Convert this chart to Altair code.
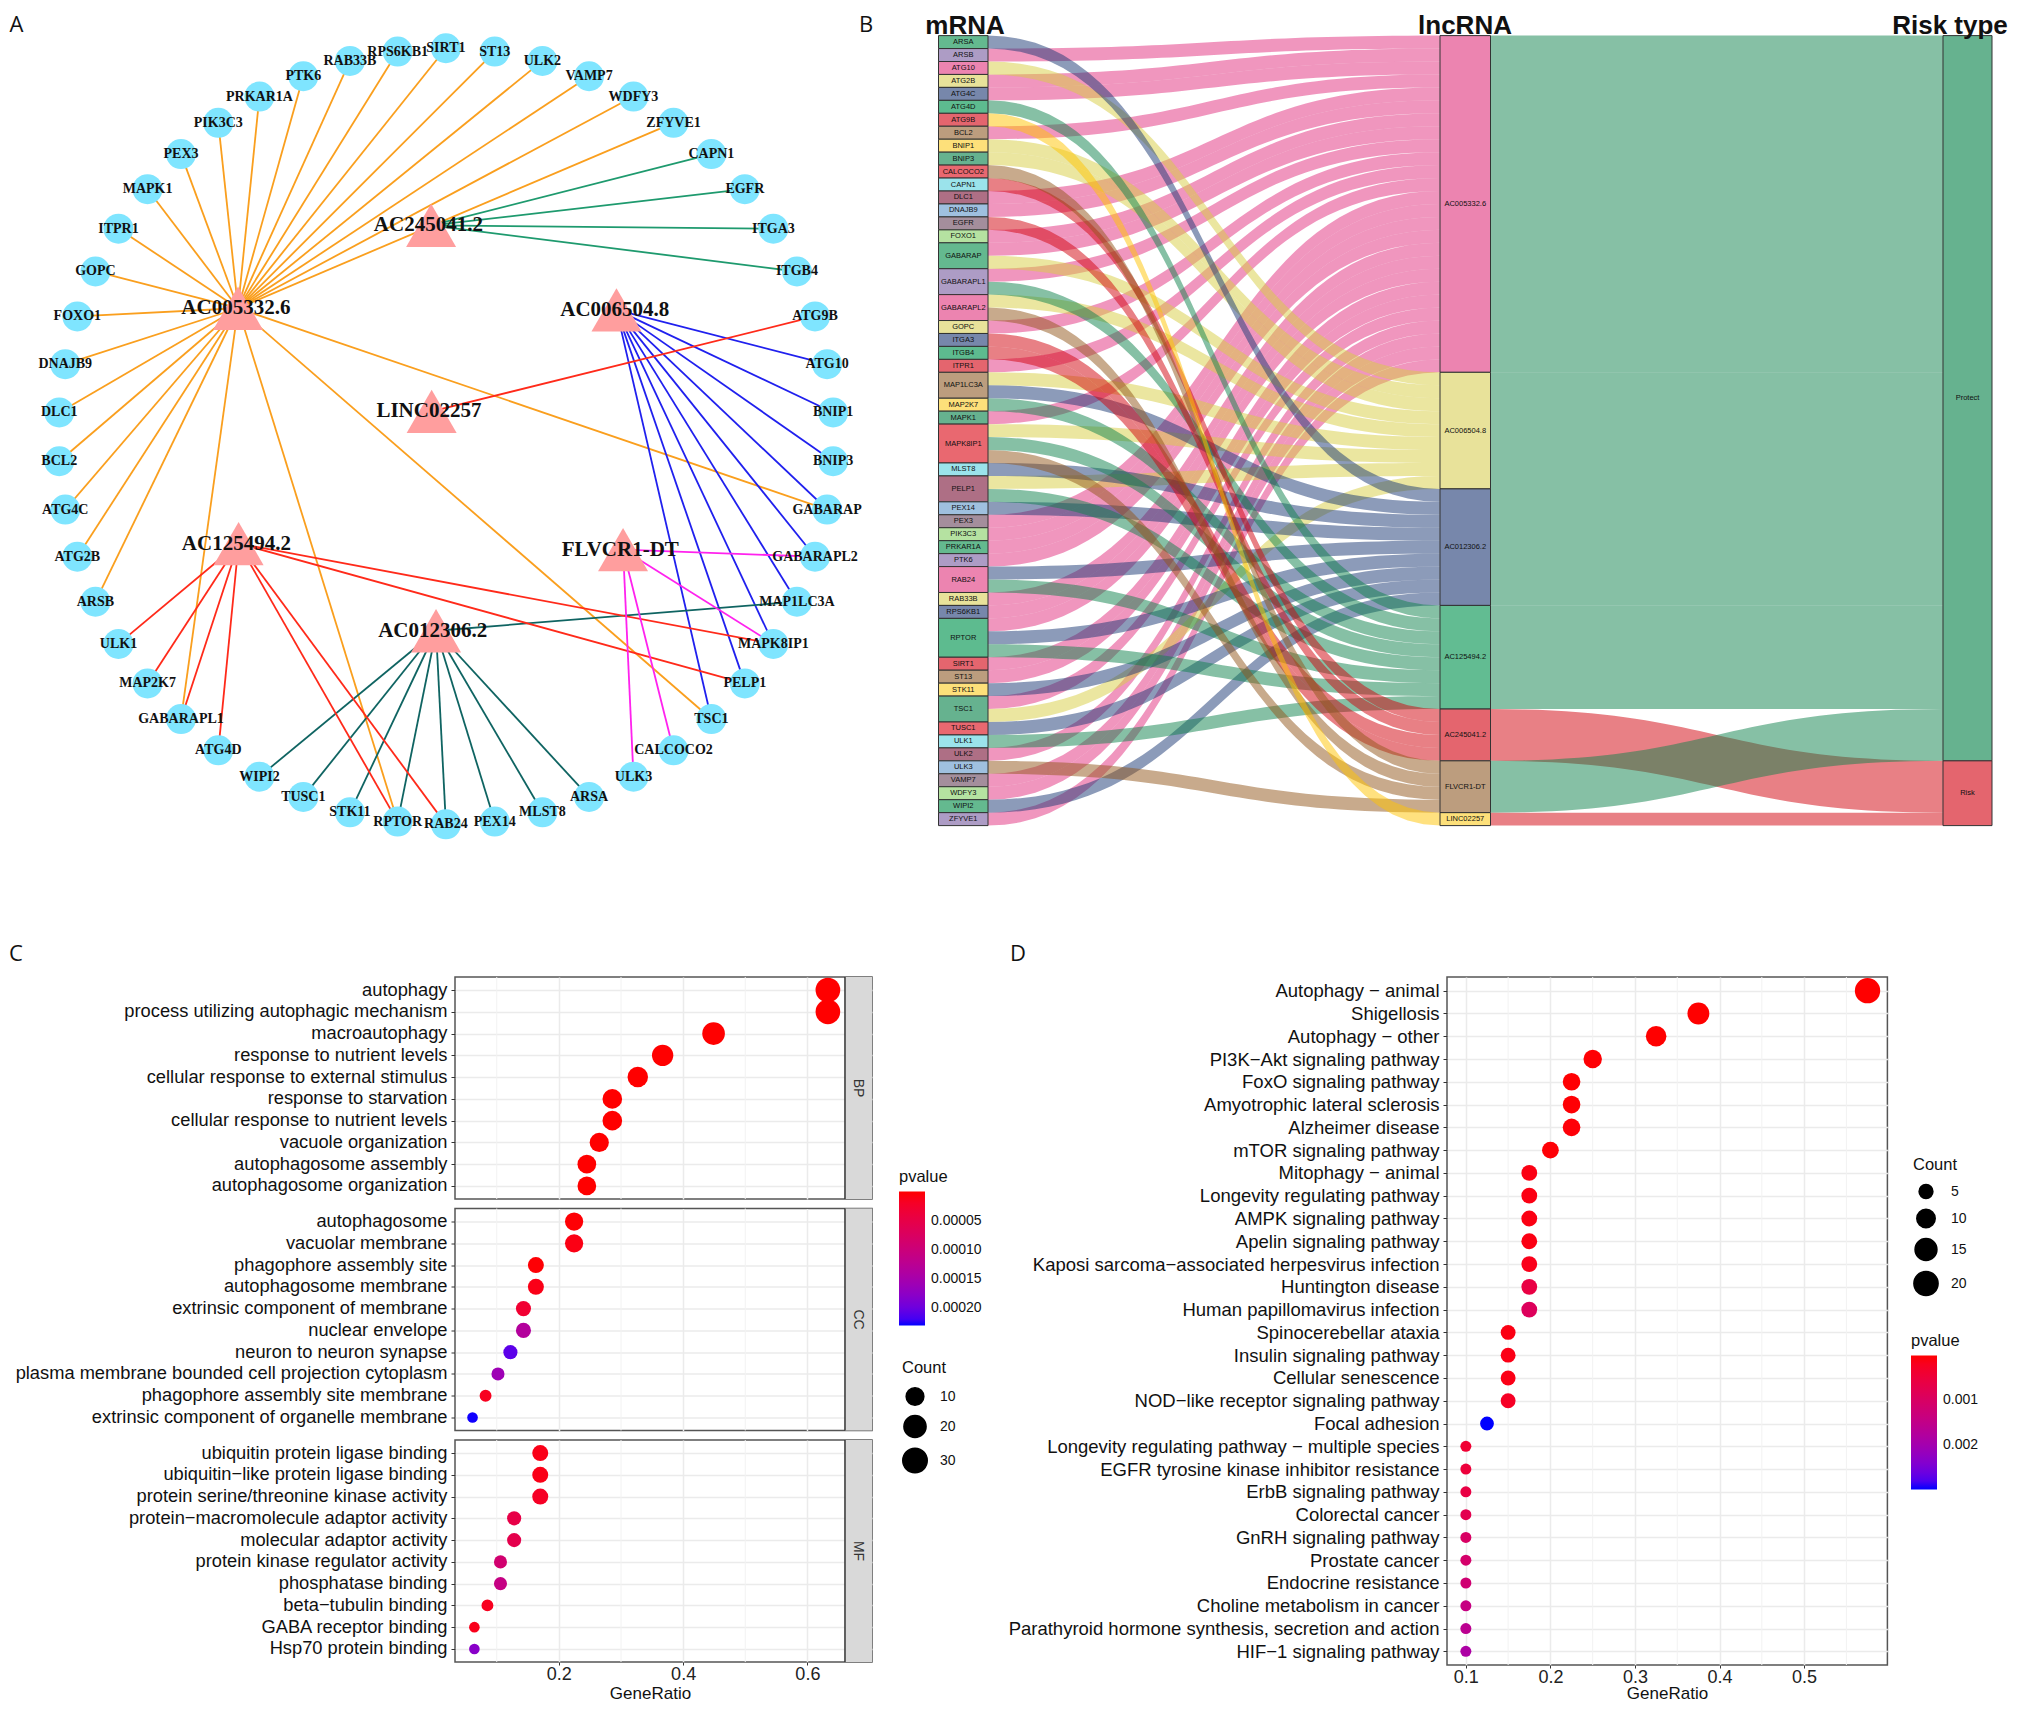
import altair as alt
import pandas as pd

alt.data_transformers.disable_max_rows()

node_names = ["SIRT1","ST13","ULK2","VAMP7","WDFY3","ZFYVE1","CAPN1","EGFR","ITGA3","ITGB4","ATG9B","ATG10","BNIP1","BNIP3","GABARAP","GABARAPL2","MAP1LC3A","MAPK8IP1","PELP1","TSC1","CALCOCO2","ULK3","ARSA","MLST8","PEX14","RAB24","RPTOR","STK11","TUSC1","WIPI2","ATG4D","GABARAPL1","MAP2K7","ULK1","ARSB","ATG2B","ATG4C","BCL2","DLC1","DNAJB9","FOXO1","GOPC","ITPR1","MAPK1","PEX3","PIK3C3","PRKAR1A","PTK6","RAB33B","RPS6KB1"]
node_x = [813,902,989,1074,1155,1228,1297,1358,1410,1453,1486,1508,1519,1519,1508,1486,1453,1410,1358,1297,1228,1155,1074,989,902,813,725,638,553,473,398,330,269,216,174,141,119,108,108,119,141,174,216,269,330,398,473,553,638,725]
node_y = [88,94,111,139,176,224,281,345,417,495,577,664,752,841,929,1015,1097,1174,1246,1311,1368,1416,1453,1481,1498,1503,1498,1481,1453,1416,1368,1311,1246,1174,1097,1015,929,841,752,664,577,495,417,345,281,224,176,139,111,94]

lnc_names = ["AC005332.6","AC006504.8","AC012306.2","AC125494.2","AC245041.2","FLVCR1-DT","LINC02257"]
lnc_x = [434,1124,795,435,786,1136,787]
lnc_y = [562,565,1150,991,411,1002,750]
lnc_label_x = [430,1121,789,431,781,1131,782]
lnc_label_y = [561,565,1151,992,410,1002,750]
lnc_edge_color = ["#FA9F1E","#2020EE","#0F6462","#FF2A1A","#1E9A6E","#FF22EE","#FF2A1A"]
lnc_targets = {
 "AC005332.6":["ARSB","ATG2B","ATG4C","BCL2","DLC1","DNAJB9","FOXO1","GABARAP","GABARAPL1","GOPC","ITPR1","MAPK1","PEX3","PIK3C3","PRKAR1A","PTK6","RAB33B","RPS6KB1","RPTOR","SIRT1","ST13","TSC1","ULK2","VAMP7","WDFY3","ZFYVE1"],
 "AC006504.8":["ATG10","BNIP1","BNIP3","GABARAP","GABARAPL2","MAP1LC3A","MAPK8IP1","PELP1","TSC1"],
 "AC012306.2":["ARSA","MAP1LC3A","MLST8","PEX14","RAB24","RPTOR","STK11","TUSC1","WIPI2"],
 "AC125494.2":["ATG4D","GABARAPL1","MAP2K7","MAPK8IP1","PELP1","RAB24","RPTOR","ULK1"],
 "AC245041.2":["CAPN1","EGFR","ITGA3","ITGB4"],
 "FLVCR1-DT":["CALCOCO2","GABARAPL2","MAPK8IP1","ULK3"],
 "LINC02257":["ATG9B"],
}
lnc_risk = {"AC005332.6":"Protect","AC006504.8":"Protect","AC012306.2":"Protect","AC125494.2":"Protect","AC245041.2":"Risk","FLVCR1-DT":"Protect","LINC02257":"Risk"}

nd = pd.DataFrame({"name":node_names,"x":node_x,"y":node_y})
ld = pd.DataFrame({"name":lnc_names,"x":lnc_x,"y":lnc_y,"lx":lnc_label_x,"ly":lnc_label_y})
pos = dict(zip(node_names,zip(node_x,node_y)))
rows=[]
for i,l in enumerate(lnc_names):
    for m in lnc_targets[l]:
        rows.append(dict(x=lnc_x[i],y=lnc_y[i],x2=pos[m][0],y2=pos[m][1],col=lnc_edge_color[i]))
ed = pd.DataFrame(rows)

ROW_BOTTOM = 974.4
AW, RH = 852, ROW_BOTTOM-8
k = 1568/860
ax = alt.Scale(domain=[8*k,860*k],nice=False,zero=False)
ay = alt.Scale(domain=[ROW_BOTTOM*k,8*k],nice=False,zero=False)
X = lambda f: alt.X(f,scale=ax,axis=None)
Y = lambda f: alt.Y(f,scale=ay,axis=None)

edges = alt.Chart(ed).mark_rule(strokeWidth=1.8).encode(x=X("x:Q"),y=Y("y:Q"),x2="x2:Q",y2="y2:Q",color=alt.Color("col:N",scale=None))
nodes = alt.Chart(nd).mark_circle(size=900,opacity=1,color="#7FE5FF").encode(x=X("x:Q"),y=Y("y:Q"))
nlabels = alt.Chart(nd).mark_text(font="Liberation Serif",fontWeight="bold",fontSize=14,color="#111").encode(x=X("x:Q"),y=Y("y:Q"),text="name:N")
tris = alt.Chart(ld).mark_point(shape="triangle-up",filled=True,size=2500,opacity=1,color="#FF9E9E").encode(x=X("x:Q"),y=Y("y:Q"))
tlabels = alt.Chart(ld).mark_text(font="Liberation Serif",fontWeight="bold",fontSize=21,color="#111").encode(x=X("lx:Q"),y=Y("ly:Q"),text="name:N")
letters_a = pd.DataFrame({"t":["A","C"],"x":[16.5*k,16*k],"y":[24.5*k,954*k]})
lett_a = alt.Chart(letters_a).mark_text(font="Open Sans",fontSize=22,color="#111").encode(x=X("x:Q"),y=Y("y:Q"),text="t:N")
panelA = alt.layer(edges,nodes,tris,nlabels,tlabels,lett_a).properties(width=AW,height=RH)

mrna = ["ARSA","ARSB","ATG10","ATG2B","ATG4C","ATG4D","ATG9B","BCL2","BNIP1","BNIP3","CALCOCO2","CAPN1","DLC1","DNAJB9","EGFR","FOXO1","GABARAP","GABARAPL1","GABARAPL2","GOPC","ITGA3","ITGB4","ITPR1","MAP1LC3A","MAP2K7","MAPK1","MAPK8IP1","MLST8","PELP1","PEX14","PEX3","PIK3C3","PRKAR1A","PTK6","RAB24","RAB33B","RPS6KB1","RPTOR","SIRT1","ST13","STK11","TSC1","TUSC1","ULK1","ULK2","ULK3","VAMP7","WDFY3","WIPI2","ZFYVE1"]
palette = ["#64B98F","#AD9CC5","#EC84B0","#E8E29A","#7787AB","#5DBB8F","#E4656E","#BC9D7E","#FDE07A","#66B28F","#E96870","#9BE3EB","#AE6F85","#9FC0DF","#A48E9C","#B5E2A1"]
flow_color = {"AC005332.6":"#E12D7D","AC006504.8":"#D7CD41","AC012306.2":"#193773","AC125494.2":"#0E814C","AC245041.2":"#D2020B","FLVCR1-DT":"#915519","LINC02257":"#FFC300"}
lnc_fill = {"AC005332.6":"#EC84B0","AC006504.8":"#E8E29A","AC012306.2":"#7787AB","AC125494.2":"#62BC92","AC245041.2":"#E4656E","FLVCR1-DT":"#BC9D7E","LINC02257":"#FDE07A"}
risk_names = ["Protect","Risk"]
risk_fill = {"Protect":"#66B28F","Risk":"#E4656E"}
risk_flow = {"Protect":"#0E814C","Risk":"#D2020B"}
col_x = [[938.5,988],[1440,1490.5],[1943,1992]]

pairs = [(m,l) for l in lnc_names for m in lnc_targets[l]]
m_strata=[]; m_slot={}; cur=0
for i,m in enumerate(mrna):
    ls=[l for l in lnc_names if m in lnc_targets[l]]
    m_strata.append(dict(name=m,x0=col_x[0][0],x1=col_x[0][1],y0=cur,y1=cur+len(ls),fill=palette[i%16],ym=cur+len(ls)/2))
    for l in ls:
        m_slot[(m,l)]=cur; cur+=1
l_strata=[]; l_slot={}; cur=0
for l in lnc_names:
    n=len(lnc_targets[l])
    l_strata.append(dict(name=l,x0=col_x[1][0],x1=col_x[1][1],y0=cur,y1=cur+n,fill=lnc_fill[l],ym=cur+n/2))
    for m in mrna:
        if m in lnc_targets[l]:
            l_slot[(m,l)]=cur; cur+=1
r_strata=[]; r_slot={}; cur=0
for r in risk_names:
    ls=[l for l in lnc_names if lnc_risk[l]==r]
    n=sum(len(lnc_targets[l]) for l in ls)
    r_strata.append(dict(name=r,x0=col_x[2][0],x1=col_x[2][1],y0=cur,y1=cur+n,fill=risk_fill[r],ym=cur+n/2))
    for l in ls:
        r_slot[l]=cur; cur+=len(lnc_targets[l])

def ribbon(idn,xa,xb,ya,yb,th,fill):
    out=[]
    w=xb-xa
    for i in range(41):
        s=i/40
        fx=1.5*s*(1-s)+s**3
        fy=3*s*s-2*s**3
        y=ya+(yb-ya)*fy
        out.append(dict(link=idn,px=xa+w*fx,ya=y,yb=y+th,tint=fill))
    return out
fl=[]
for j,(m,l) in enumerate(pairs):
    fl+=ribbon(f"a{j:03d}",col_x[0][1],col_x[1][0],m_slot[(m,l)],l_slot[(m,l)],1,flow_color[l])
for j,l in enumerate(lnc_names):
    n=len(lnc_targets[l])
    ya=[s["y0"] for s in l_strata if s["name"]==l][0]
    fl+=ribbon(f"b{j:03d}",col_x[1][1],col_x[2][0],ya,r_slot[l],n,risk_flow[lnc_risk[l]])
fd=pd.DataFrame(fl)
sd=pd.DataFrame(m_strata+l_strata+r_strata)

unit=(825.6-35.6)/61
py=lambda p:(p-35.6)/unit
bx=alt.Scale(domain=[860,1995],nice=False,zero=False)
by=alt.Scale(domain=[py(ROW_BOTTOM),py(8)],nice=False,zero=False)
BW=1135
BX=lambda f:alt.X(f,scale=bx,axis=None)
BY=lambda f:alt.Y(f,scale=by,axis=None,stack=None)
tints=list(dict.fromkeys(fd.tint))
flows=alt.Chart(fd).mark_area(opacity=0.5,orient="vertical").encode(x=BX("px:Q"),y=BY("ya:Q"),y2="yb:Q",color=alt.Color("tint:N",scale=alt.Scale(domain=tints,range=tints),legend=None),detail="link:N")
strata=alt.Chart(sd).mark_rect(stroke="#333",strokeWidth=1,opacity=1).encode(x=BX("x0:Q"),x2="x1:Q",y=BY("y0:Q"),y2="y1:Q",color=alt.Color("fill:N",scale=None))
sd2=sd.assign(xm=(sd.x0+sd.x1)/2)
stext=alt.Chart(sd2).mark_text(font="Liberation Sans",fontSize=7.5,color="#111").encode(x=BX("xm:Q"),y=BY("ym:Q"),text="name:N")
heads=pd.DataFrame({"t":["mRNA","lncRNA","Risk type"],"x":[965,1465,1950],"y":[py(25.5),py(25.5),py(25.5)]})
htext=alt.Chart(heads).mark_text(font="Liberation Sans",fontWeight="bold",fontSize=26,color="#111").encode(x=BX("x:Q"),y=BY("y:Q"),text="t:N")
letters_b=pd.DataFrame({"t":["B","D"],"x":[866,1018],"y":[py(24.5),py(954)]})
ltext=alt.Chart(letters_b).mark_text(font="Open Sans",fontSize=22,color="#111").encode(x=BX("x:Q"),y=BY("y:Q"),text="t:N")
panelB=alt.layer(flows,strata,stext,htext,ltext).properties(width=BW,height=RH)

bp_terms=["autophagy","process utilizing autophagic mechanism","macroautophagy","response to nutrient levels","cellular response to external stimulus","response to starvation","cellular response to nutrient levels","vacuole organization","autophagosome assembly","autophagosome organization"]
bp_ratio=[.633,.633,.449,.367,.327,.286,.286,.265,.245,.245]
bp_count=[31,31,22,18,16,14,14,13,12,12]
bp_p=[1e-9,1e-9,1e-8,1e-8,1e-8,1e-7,1e-7,1e-7,1e-7,1e-7]
cc_terms=["autophagosome","vacuolar membrane","phagophore assembly site","autophagosome membrane","extrinsic component of membrane","nuclear envelope","neuron to neuron synapse","plasma membrane bounded cell projection cytoplasm","phagophore assembly site membrane","extrinsic component of organelle membrane"]
cc_ratio=[.2245,.2245,.163,.163,.143,.143,.122,.102,.082,.061]
cc_count=[11,11,8,8,7,7,6,5,4,3]
cc_p=[2e-6,8e-6,2e-6,1e-5,3e-5,1.35e-4,2.1e-4,1.6e-4,1.5e-5,2.3e-4]
mf_terms=["ubiquitin protein ligase binding","ubiquitin\u2212like protein ligase binding","protein serine/threonine kinase activity","protein\u2212macromolecule adaptor activity","molecular adaptor activity","protein kinase regulator activity","phosphatase binding","beta\u2212tubulin binding","GABA receptor binding","Hsp70 protein binding"]
mf_ratio=[.17,.17,.17,.128,.128,.106,.106,.085,.064,.064]
mf_count=[8,8,8,6,6,5,5,4,3,3]
mf_p=[1e-5,1e-5,2e-5,5e-5,5.5e-5,9e-5,1.1e-4,1.5e-5,1.2e-5,1.8e-4]

d_terms=["Autophagy \u2212 animal","Shigellosis","Autophagy \u2212 other","PI3K\u2212Akt signaling pathway","FoxO signaling pathway","Amyotrophic lateral sclerosis","Alzheimer disease","mTOR signaling pathway","Mitophagy \u2212 animal","Longevity regulating pathway","AMPK signaling pathway","Apelin signaling pathway","Kaposi sarcoma\u2212associated herpesvirus infection","Huntington disease","Human papillomavirus infection","Spinocerebellar ataxia","Insulin signaling pathway","Cellular senescence","NOD\u2212like receptor signaling pathway","Focal adhesion","Longevity regulating pathway \u2212 multiple species","EGFR tyrosine kinase inhibitor resistance","ErbB signaling pathway","Colorectal cancer","GnRH signaling pathway","Prostate cancer","Endocrine resistance","Choline metabolism in cancer","Parathyroid hormone synthesis, secretion and action","HIF\u22121 signaling pathway"]
d_ratio=[.575,.375,.325,.25,.225,.225,.225,.2,.175,.175,.175,.175,.175,.175,.175,.15,.15,.15,.15,.125,.1,.1,.1,.1,.1,.1,.1,.1,.1,.1]
d_count=[23,15,13,10,9,9,9,8,7,7,7,7,7,7,7,6,6,6,6,5,4,4,4,4,4,4,4,4,4,4]
d_p=[1e-7,1e-6,1e-6,2e-5,1e-5,2e-5,4e-5,3e-5,1e-4,1e-4,1e-4,1e-4,1.5e-4,6e-4,9e-4,1e-4,1.2e-4,1.2e-4,2.5e-4,2.99e-3,4e-4,5e-4,6e-4,7.5e-4,1e-3,1.1e-3,1.2e-3,1.4e-3,1.6e-3,1.85e-3]

GRID="#ebebeb"
def dots(terms,ratio,count,p,h,w,xdom,majors,minors,color_scale,size_scale,xlabels,strip=None,strip_from=None,legends=None,fs=18.5,title_y=26):
    df=pd.DataFrame({"term":terms,"ratio":ratio,"count":count,"p":p})
    xs=alt.Scale(domain=xdom,nice=False,zero=False)
    if xlabels:
        axis=alt.Axis(values=majors,format=".1f",title="GeneRatio",titleFontSize=17,titleFontWeight="normal",titleColor="#111",titleX=xlabels,titleY=title_y,titleBaseline="middle",
                      labelFontSize=18,labelColor="#222",tickColor="#333",tickSize=3,domain=False,grid=True,gridColor=GRID,gridWidth=1.5,labelPadding=0)
    else:
        axis=alt.Axis(values=majors,title=None,labels=False,ticks=False,domain=False,grid=True,gridColor=GRID,gridWidth=1.5)
    minor=alt.Chart(pd.DataFrame({"x":minors})).mark_rule(color="#f2f2f2",strokeWidth=1).encode(x=alt.X("x:Q",scale=xs,axis=axis))
    ys=alt.Scale(domain=terms,type="point",padding=0.6)
    yaxis=alt.Axis(title=None,labelFontSize=fs,labelLimit=1000,labelColor="#111",tickColor="#333",tickSize=4,domain=False,grid=True,gridColor=GRID,gridWidth=1.5,labelPadding=4)
    col_leg,size_leg=legends if legends else (None,None)
    pts=alt.Chart(df).mark_circle(opacity=1).encode(
        x=alt.X("ratio:Q",scale=xs,axis=axis),
        y=alt.Y("term:N",scale=ys,axis=yaxis,sort=terms),
        color=alt.Color("p:Q",scale=color_scale,legend=col_leg),
        size=alt.Size("count:Q",scale=size_scale,legend=size_leg))
    layers=[minor]
    if strip:
        sdf=pd.DataFrame({"a":[strip_from],"b":[xdom[1]],"m":[(strip_from+xdom[1])/2],"s":[strip]})
        layers.append(alt.Chart(sdf).mark_rect(color="#d9d9d9",opacity=1).encode(x=alt.X("a:Q",scale=xs,axis=axis),x2="b:Q"))
        layers.append(alt.Chart(sdf).mark_rule(color="#333",strokeWidth=1.5).encode(x=alt.X("a:Q",scale=xs,axis=axis)))
        layers.append(alt.Chart(sdf).mark_text(angle=90,font="Liberation Sans",fontSize=14,color="#333").encode(x=alt.X("m:Q",scale=xs,axis=axis),y=alt.value(h/2),text="s:N"))
    layers.append(pts)
    return alt.layer(*layers).properties(width=w,height=h,view=alt.ViewBackground(stroke="#555",strokeWidth=1.5))

c_color=alt.Scale(domain=[2.31e-4,0],range=["#0000FF","#FF0000"],interpolate="lab")
c_size=alt.Scale(domain=[3,10,20,31],range=[113,314,491,610])
d_color=alt.Scale(domain=[2.99e-3,0],range=["#0000FF","#FF0000"],interpolate="lab")
d_size=alt.Scale(domain=[4,5,10,15,20,23],range=[121,191,340,479,585,642])

def color_legend(x,y,vals,fmt):
    return alt.Legend(orient="none",legendX=x,legendY=y,title="pvalue",type="gradient",values=vals,format=fmt,gradientLength=134,gradientThickness=26,
                      titleFontSize=16.5,titleFontWeight="normal",titleColor="#111",labelFontSize=14,labelColor="#111",titlePadding=6,labelOffset=6)
def size_legend(x,y,vals,rp):
    return alt.Legend(orient="none",legendX=x,legendY=y,title="Count",values=vals,symbolType="circle",symbolFillColor="black",symbolStrokeColor="black",symbolOpacity=1,
                      titleFontSize=16.5,titleFontWeight="normal",titleColor="#111",labelFontSize=14,labelColor="#111",titlePadding=10,labelOffset=12,rowPadding=rp)

cdom=[0.0328,0.704]
cleg=(color_legend(444,192,[5e-5,1e-4,1.5e-4,2e-4],".5f"),size_legend(447,383,[10,20,30],3))
c1=dots(bp_terms,bp_ratio,bp_count,bp_p,222,417,cdom,[.2,.4,.6],[.1,.3,.5],c_color,c_size,None,"BP",.6605,cleg,fs=18.3)
c2=dots(cc_terms,cc_ratio,cc_count,cc_p,222,417,cdom,[.2,.4,.6],[.1,.3,.5],c_color,c_size,None,"CC",.6605,fs=18.3)
c3=dots(mf_terms,mf_ratio,mf_count,mf_p,222,417,cdom,[.2,.4,.6],[.1,.3,.5],c_color,c_size,195,"MF",.6605,fs=18.3,title_y=31)
panelC=alt.vconcat(c1,c2,c3,spacing=9.5,bounds="flush").resolve_scale(color="independent",size="independent")

dleg=(color_legend(464,356,[1e-3,2e-3],".3f"),size_legend(466,180,[5,10,15,20],4))
panelD=dots(d_terms,d_ratio,d_count,d_p,688,440.4,[.0777,.5985],[.1,.2,.3,.4,.5],[.15,.25,.35,.45,.55],d_color,d_size,220,None,None,dleg,title_y=28)

def spacer(w,h=5):
    return alt.Chart(pd.DataFrame({"x":[0]})).mark_point(opacity=0).encode(x=alt.X("x:Q",axis=None),y=alt.Y("x:Q",axis=None)).properties(width=w,height=h)

row1=alt.hconcat(panelA,panelB,spacing=0,bounds="flush").resolve_scale(color="independent",size="independent")
row2=alt.hconcat(spacer(6,722),panelC,spacer(23.6,722),panelD,spacing=0).resolve_scale(color="independent",size="independent")
chart=alt.vconcat(row1,row2,spacing=0).resolve_scale(color="independent",size="independent").properties(padding=0,background="white")
chart=chart.configure_view(stroke=None).configure_axis(labelFont="Liberation Sans",titleFont="Liberation Sans").configure_legend(labelFont="Liberation Sans",titleFont="Liberation Sans")

chart.save("out.html",embed_options={"renderer":"svg","actions":False})
